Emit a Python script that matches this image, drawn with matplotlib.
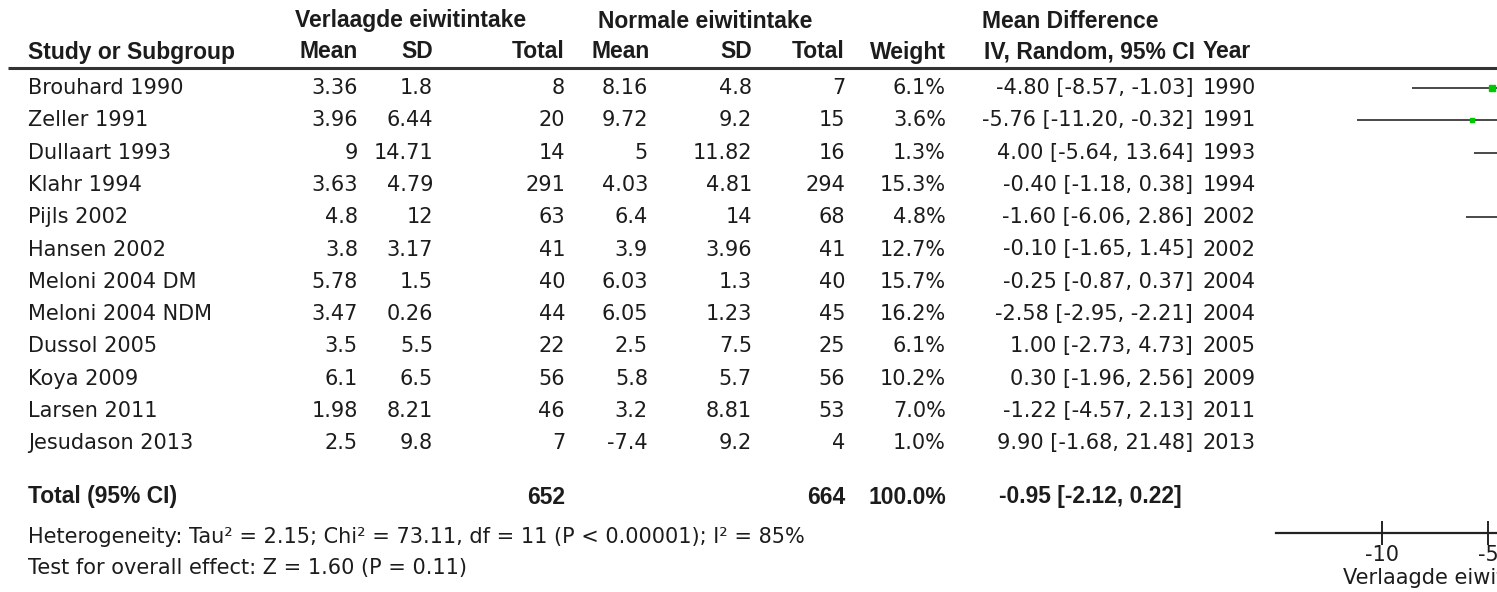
import matplotlib
matplotlib.use("Agg")
import matplotlib.pyplot as plt
import numpy as np

# studies
studies = ["Brouhard 1990", "Zeller 1991", "Dullaart 1993", "Klahr 1994", "Pijls 2002",
           "Hansen 2002", "Meloni 2004 DM", "Meloni 2004 NDM", "Dussol 2005", "Koya 2009",
           "Larsen 2011", "Jesudason 2013"]
years = [1990, 1991, 1993, 1994, 2002, 2002, 2004, 2004, 2005, 2009, 2011, 2013]

# verlaagde eiwitintake
mean_v = ["3.36", "3.96", "9", "3.63", "4.8", "3.8", "5.78", "3.47", "3.5", "6.1", "1.98", "2.5"]
sd_v = ["1.8", "6.44", "14.71", "4.79", "12", "3.17", "1.5", "0.26", "5.5", "6.5", "8.21", "9.8"]
n_v = [8, 20, 14, 291, 63, 41, 40, 44, 22, 56, 46, 7]

# normale eiwitintake
mean_n = ["8.16", "9.72", "5", "4.03", "6.4", "3.9", "6.03", "6.05", "2.5", "5.8", "3.2", "-7.4"]
sd_n = ["4.8", "9.2", "11.82", "4.81", "14", "3.96", "1.3", "1.23", "7.5", "5.7", "8.81", "9.2"]
n_n = [7, 15, 16, 294, 68, 41, 40, 45, 25, 56, 53, 4]

weight = [6.1, 3.6, 1.3, 15.3, 4.8, 12.7, 15.7, 16.2, 6.1, 10.2, 7.0, 1.0]
md = [-4.80, -5.76, 4.00, -0.40, -1.60, -0.10, -0.25, -2.58, 1.00, 0.30, -1.22, 9.90]
lo = [-8.57, -11.20, -5.64, -1.18, -6.06, -1.65, -0.87, -2.95, -2.73, -1.96, -4.57, -1.68]
hi = [-1.03, -0.32, 13.64, 0.38, 2.86, 1.45, 0.37, -2.21, 4.73, 2.56, 2.13, 21.48]

tot_md, tot_lo, tot_hi = -0.95, -2.12, 0.22
ticks = [-10, -5, 0, 5, 10]

txt = "#1c1c1c"
fs = 15
fs_b = 16.5
reg = ["DejaVu Sans"]
bld = ["Liberation Sans", "DejaVu Sans"]

fig = plt.figure(figsize=(14.97, 5.92), dpi=100)
ax = fig.add_axes([0, 0, 1, 1])
ax.set_xlim(0, 1497)
ax.set_ylim(592, 0)
ax.axis("off")

def t(x, y, s, ha="right", bold=False):
    ax.text(x, y, s, ha=ha, va="center", fontsize=fs_b if bold else fs, color=txt,
            family=bld if bold else reg,
            fontweight="bold" if bold else "normal")

# headers
t(411, 21, "Verlaagde eiwitintake", ha="center", bold=True)
t(705, 21, "Normale eiwitintake", ha="center", bold=True)
t(1070, 21, "Mean Difference", ha="center", bold=True)
t(28, 52, "Study or Subgroup", ha="left", bold=True)
for x, s in [(358, "Mean"), (433, "SD"), (565, "Total"), (650, "Mean"), (752, "SD"),
             (845, "Total"), (946, "Weight"), (1195, "IV, Random, 95% CI")]:
    t(x, 52, s, bold=True)
t(1203, 52, "Year", ha="left", bold=True)
ax.plot([8, 1497], [68, 68], color="#333333", lw=2.2, solid_capstyle="butt")

y0, dy = 88, 32.3
rows_y = [y0 + i * dy for i in range(len(studies))]
for i, y in enumerate(rows_y):
    t(28, y, studies[i], ha="left")
    t(358, y, mean_v[i])
    t(433, y, sd_v[i])
    t(565, y, str(n_v[i]))
    t(648, y, mean_n[i])
    t(752, y, sd_n[i])
    t(845, y, str(n_n[i]))
    t(946, y, f"{weight[i]:.1f}%")
    t(1193, y, f"{md[i]:.2f} [{lo[i]:.2f}, {hi[i]:.2f}]")
    t(1203, y, str(years[i]), ha="left")

y_tot = 497
t(28, y_tot, "Total (95% CI)", ha="left", bold=True)
t(565, y_tot, str(sum(n_v)), bold=True)
t(845, y_tot, str(sum(n_n)), bold=True)
t(946, y_tot, "100.0%", bold=True)
t(1182, y_tot, f"{tot_md:.2f} [{tot_lo:.2f}, {tot_hi:.2f}]", bold=True)
t(28, 537, "Heterogeneity: Tau\u00b2 = 2.15; Chi\u00b2 = 73.11, df = 11 (P < 0.00001); I\u00b2 = 85%", ha="left")
t(28, 568, "Test for overall effect: Z = 1.60 (P = 0.11)", ha="left")

# forest plot panel, -15..15, runs past the right edge
px = 21.2
left = 1276
fx = fig.add_axes([left / 1497, 0, 30 * px / 1497, 1])
fx.set_xlim(-15, 15)
fx.set_ylim(592, 0)
fx.patch.set_visible(False)
for s in ["top", "right", "left"]:
    fx.spines[s].set_visible(False)
fx.spines["bottom"].set_position(("data", 533))
fx.spines["bottom"].set_color("#222222")
fx.spines["bottom"].set_linewidth(1.6)
fx.set_yticks([])
fx.set_xticks(ticks)
fx.set_xticklabels([str(v) for v in ticks], family=reg)
fx.tick_params(axis="x", direction="inout", length=17, width=1.4, color="#222222",
               labelsize=fs, labelcolor=txt, pad=0)
fx.axvline(0, ymin=(592 - 525) / 592, ymax=(592 - 72) / 592, color="#222222", lw=1.2)

for i, y in enumerate(rows_y):
    fx.plot([lo[i], hi[i]], [y, y], color="#3a3a3a", lw=1.3, solid_capstyle="butt", zorder=2)
    side = 2.2 * np.sqrt(weight[i]) * 0.72
    fx.plot(md[i], y, marker="s", ms=side, color="#00c800", mec="#00c800", zorder=3)

fx.text(-11.85, 578, "Verlaagde eiwitintake", ha="left", va="center", fontsize=fs,
        color=txt, family=reg)
fx.text(11.85, 578, "Normale eiwitintake", ha="right", va="center", fontsize=fs,
        color=txt, family=reg)

fig.savefig("out.png", dpi=100)
